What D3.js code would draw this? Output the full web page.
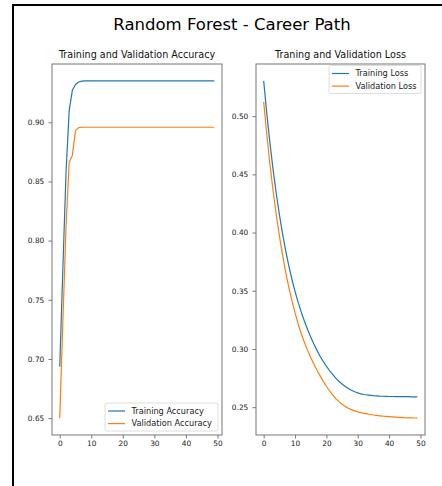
<!DOCTYPE html>
<html>
<head>
<meta charset="utf-8">
<script src="https://cdn.jsdelivr.net/npm/d3@7"></script>
<style>
  html, body { margin: 0; padding: 0; background: #fff; }
  svg { display: block; font-family: "DejaVu Sans", sans-serif; }
</style>
</head>
<body>
<svg id="chart" width="442" height="486"></svg>
<script>
// Per-epoch metrics of the random forest model (50 epochs)
const trainAccuracy = [
  0.6934, 0.7768, 0.8580, 0.9100, 0.9270, 0.9320, 0.9340, 0.9348, 0.9350, 0.9350,
  0.9350, 0.9350, 0.9350, 0.9350, 0.9350, 0.9350, 0.9350, 0.9350, 0.9350, 0.9350,
  0.9350, 0.9350, 0.9350, 0.9350, 0.9350, 0.9350, 0.9350, 0.9350, 0.9350, 0.9350,
  0.9350, 0.9350, 0.9350, 0.9350, 0.9350, 0.9350, 0.9350, 0.9350, 0.9350, 0.9350,
  0.9350, 0.9350, 0.9350, 0.9350, 0.9350, 0.9350, 0.9350, 0.9350, 0.9350, 0.9350
];
const valAccuracy = [
  0.6500, 0.7320, 0.8120, 0.8665, 0.8720, 0.8930, 0.8955, 0.8958, 0.8958, 0.8958,
  0.8958, 0.8958, 0.8958, 0.8958, 0.8958, 0.8958, 0.8958, 0.8958, 0.8958, 0.8958,
  0.8958, 0.8958, 0.8958, 0.8958, 0.8958, 0.8958, 0.8958, 0.8958, 0.8958, 0.8958,
  0.8958, 0.8958, 0.8958, 0.8958, 0.8958, 0.8958, 0.8958, 0.8958, 0.8958, 0.8958,
  0.8958, 0.8958, 0.8958, 0.8958, 0.8958, 0.8958, 0.8958, 0.8958, 0.8958, 0.8958
];
const trainLoss = [
  0.5303, 0.5021, 0.4768, 0.4541, 0.4338, 0.4156, 0.3993, 0.3847, 0.3716, 0.3599,
  0.3494, 0.3400, 0.3316, 0.3238, 0.3167, 0.3102, 0.3042, 0.2988, 0.2938, 0.2893,
  0.2852, 0.2815, 0.2781, 0.2750, 0.2723, 0.2699, 0.2678, 0.2660, 0.2645, 0.2633,
  0.2623, 0.2615, 0.2609, 0.2605, 0.2602, 0.2599, 0.2597, 0.2595, 0.2594, 0.2593,
  0.2592, 0.2592, 0.2591, 0.2591, 0.2590, 0.2590, 0.2590, 0.2589, 0.2589, 0.2589
];
const valLoss = [
  0.5123, 0.4840, 0.4586, 0.4359, 0.4155, 0.3973, 0.3810, 0.3663, 0.3532, 0.3415,
  0.3310, 0.3215, 0.3131, 0.3055, 0.2988, 0.2927, 0.2871, 0.2818, 0.2769, 0.2722,
  0.2680, 0.2641, 0.2605, 0.2574, 0.2548, 0.2525, 0.2507, 0.2491, 0.2479, 0.2468,
  0.2460, 0.2453, 0.2447, 0.2442, 0.2437, 0.2433, 0.2429, 0.2426, 0.2423, 0.2421,
  0.2419, 0.2417, 0.2415, 0.2413, 0.2412, 0.2410, 0.2409, 0.2408, 0.2407, 0.2406
];

const xTicks = [0, 10, 20, 30, 40, 50];
const accTicks = [0.65, 0.70, 0.75, 0.80, 0.85, 0.90];
const lossTicks = [0.25, 0.30, 0.35, 0.40, 0.45, 0.50];

const figureTitle = "Random Forest - Career Path";
const panels = [
  {
    title: "Training and Validation Accuracy",
    series: [
      { name: "Training Accuracy", values: trainAccuracy },
      { name: "Validation Accuracy", values: valAccuracy }
    ],
    yTicks: accTicks,
    legend: "lower right"
  },
  {
    title: "Traning and Validation Loss",
    series: [
      { name: "Training Loss", values: trainLoss },
      { name: "Validation Loss", values: valLoss }
    ],
    yTicks: lossTicks,
    legend: "upper right"
  }
];

const colors = ["#1f77b4", "#ff7f0e"];
const svg = d3.select("#chart");

// outer frame around the figure
svg.append("rect")
  .attr("x", 13).attr("y", 5)
  .attr("width", 445).attr("height", 495)
  .attr("fill", "none").attr("stroke", "#000").attr("stroke-width", 2);

svg.append("text")
  .attr("x", 232).attr("y", 29.5)
  .attr("text-anchor", "middle")
  .attr("font-size", 16.5)
  .attr("fill", "#000")
  .text(figureTitle);

const axesBoxes = [
  { left: 52, right: 222, top: 64, bottom: 435 },
  { left: 256, right: 425, top: 64, bottom: 435 }
];

// pad a data extent by 5% on each side
function padded(ext) {
  const m = (ext[1] - ext[0]) * 0.05;
  return [ext[0] - m, ext[1] + m];
}

panels.forEach((p, i) => {
  const box = axesBoxes[i];
  const n = p.series[0].values.length;
  const x = d3.scaleLinear()
    .domain(padded([0, n - 1]))
    .range([box.left, box.right]);
  const allVals = p.series.flatMap(s => s.values);
  const y = d3.scaleLinear()
    .domain(padded(d3.extent(allVals)))
    .range([box.bottom, box.top]);

  const g = svg.append("g");

  // axes
  const xAxis = g.append("g")
    .attr("transform", `translate(0,${box.bottom})`)
    .call(d3.axisBottom(x).tickValues(xTicks).tickSize(3.5).tickPadding(2.5).tickFormat(d3.format("d")));
  const yAxis = g.append("g")
    .attr("transform", `translate(${box.left},0)`)
    .call(d3.axisLeft(y).tickValues(p.yTicks).tickSize(3.5).tickPadding(4.2).tickFormat(d3.format(".2f")));
  [xAxis, yAxis].forEach(a => {
    a.select(".domain").remove();
    a.selectAll(".tick line").attr("stroke", "#555").attr("stroke-width", 0.8);
    a.selectAll(".tick text")
      .attr("fill", "#222")
      .attr("font-size", 7.4)
      .attr("font-family", "DejaVu Sans, sans-serif");
  });

  // data lines
  const line = d3.line()
    .x((d, j) => x(j))
    .y(d => y(d));
  p.series.forEach((s, k) => {
    g.append("path")
      .datum(s.values)
      .attr("fill", "none")
      .attr("stroke", colors[k])
      .attr("stroke-width", 1.2)
      .attr("stroke-linejoin", "round")
      .attr("d", line);
  });

  // axes frame
  g.append("rect")
    .attr("x", box.left).attr("y", box.top)
    .attr("width", box.right - box.left)
    .attr("height", box.bottom - box.top)
    .attr("fill", "none")
    .attr("stroke", "#777")
    .attr("stroke-width", 1);

  // panel title
  g.append("text")
    .attr("x", (box.left + box.right) / 2)
    .attr("y", 58)
    .attr("text-anchor", "middle")
    .attr("font-size", 9.6)
    .attr("fill", "#111")
    .text(p.title);

  // legend
  const lw = i === 0 ? 113 : 92;
  const lh = 28;
  const lx = box.right - 4 - lw;
  const ly = p.legend === "upper right" ? box.top + 1.5 : box.bottom - 4 - lh;
  const lg = g.append("g").attr("transform", `translate(${lx},${ly})`);
  lg.append("rect")
    .attr("width", lw).attr("height", lh)
    .attr("rx", 2).attr("ry", 2)
    .attr("fill", "#fff").attr("fill-opacity", 0.8)
    .attr("stroke", "#d6d6d6").attr("stroke-width", 0.8);
  p.series.forEach((s, k) => {
    const rowY = 8 + k * 12.6;
    lg.append("line")
      .attr("x1", 3).attr("x2", 20)
      .attr("y1", rowY).attr("y2", rowY)
      .attr("stroke", colors[k]).attr("stroke-width", 1.2);
    lg.append("text")
      .attr("x", 26.5).attr("y", rowY)
      .attr("dy", "0.35em")
      .attr("font-size", 8.2)
      .attr("fill", "#222")
      .text(s.name);
  });
});
</script>
</body>
</html>
